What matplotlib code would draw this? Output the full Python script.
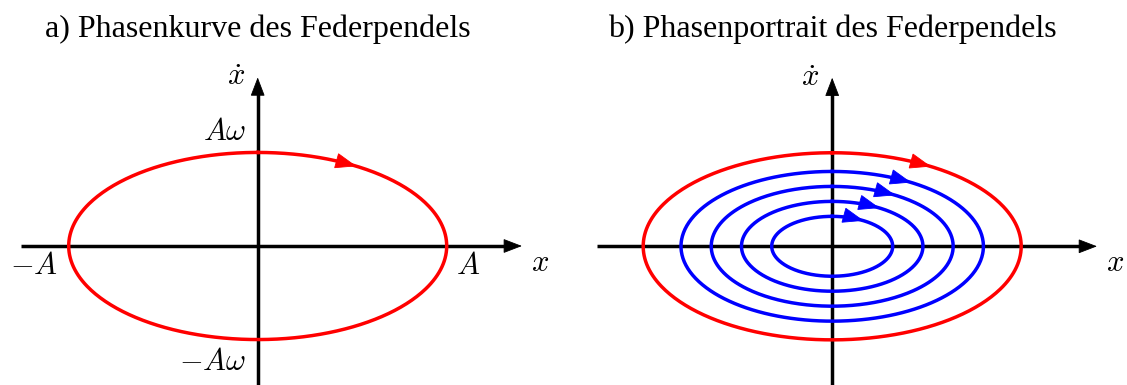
import numpy as np
import matplotlib
matplotlib.use("Agg")
import matplotlib.pyplot as plt
from matplotlib.patches import FancyArrowPatch

plt.rcParams["font.family"] = "Liberation Serif"
plt.rcParams["mathtext.fontset"] = "cm"

# spring pendulum: x = A sin(wt), xdot = A w cos(wt); lengths in units of A
AMP = 1.0
OMEGA = 0.495
PORTRAIT_AMPS = [1.0, 0.80, 0.64, 0.48, 0.32]
PORTRAIT_COLORS = ["red", "blue", "blue", "blue", "blue"]
ARROW_PHASE = 0.55  # phase of the direction marker on each curve (rad)

TITLES = ["a) Phasenkurve des Federpendels", "b) Phasenportrait des Federpendels"]

W, H, DPI = 1127, 385, 100
UNIT = 189.0                     # pixels per A
ORIGINS = [(257.7, 246.0), (832.2, 246.3)]   # pixel position of (0, 0)
SPLIT = 563                      # pixel column between the panels
X_AXIS = [(-1.252, 1.398), (-1.244, 1.401)]
Y_TOP = 0.892

LW = 2.5


def head(ax, p0, p1, color, length, half_width):
    ax.add_patch(FancyArrowPatch(
        p0, p1, arrowstyle=f"-|>,head_length={length},head_width={half_width}",
        mutation_scale=1, color=color, lw=0.6, shrinkA=0, shrinkB=0,
        joinstyle="miter", zorder=4))


def ellipse(ax, amp, color):
    t = np.linspace(0, 2 * np.pi, 400)
    ax.plot(amp * np.sin(t), amp * OMEGA * np.cos(t), color=color, lw=LW, zorder=3)
    a0, a1 = ARROW_PHASE - 0.08, ARROW_PHASE
    head(ax, (amp * np.sin(a0), amp * OMEGA * np.cos(a0)),
         (amp * np.sin(a1), amp * OMEGA * np.cos(a1)), color, 14, 5.2)


def axes_cross(ax, xr):
    x0, x1 = xr
    ax.plot([x0, x1 - 0.04], [0, 0], color="k", lw=LW, solid_capstyle="butt", zorder=2)
    ax.plot([0, 0], [-1, Y_TOP - 0.04], color="k", lw=LW, solid_capstyle="butt", zorder=2)
    head(ax, (x1 - 0.05, 0), (x1, 0), "k", 12, 4.6)
    head(ax, (0, Y_TOP - 0.05), (0, Y_TOP), "k", 12, 4.6)
    ax.text(x1 + 0.096, -0.09, "$x$", fontsize=22, ha="center", va="center")
    ax.text(-0.115, Y_TOP - 0.003, r"$\dot{x}$", fontsize=22, ha="center", va="center")


fig = plt.figure(figsize=(W / DPI, H / DPI), dpi=DPI)
bounds = [(0, SPLIT), (SPLIT, W)]
axs = []
for (left, right), (ox, oy) in zip(bounds, ORIGINS):
    ax = fig.add_axes([left / W, 0, (right - left) / W, 1])
    ax.set_xlim((left - ox) / UNIT, (right - ox) / UNIT)
    ax.set_ylim(-(H - oy) / UNIT, oy / UNIT)
    ax.axis("off")
    axs.append(ax)

ax_a, ax_b = axs

# a) single phase curve with its labels
axes_cross(ax_a, X_AXIS[0])
ellipse(ax_a, AMP, "red")
ax_a.text(-AMP - 0.057, -0.111, "$-A$", fontsize=22, ha="right", va="center")
ax_a.text(AMP + 0.113, -0.111, "$A$", fontsize=22, ha="center", va="center")
ax_a.text(-0.06, AMP * OMEGA + 0.105, r"$A\omega$", fontsize=22, ha="right", va="center")
ax_a.text(-0.06, -AMP * OMEGA - 0.12, r"$-A\omega$", fontsize=22, ha="right", va="center")

# b) family of curves for several energies
axes_cross(ax_b, X_AXIS[1])
for amp, col in zip(PORTRAIT_AMPS, PORTRAIT_COLORS):
    ellipse(ax_b, amp * AMP, col)

for ax, title in zip(axs, TITLES):
    ax.text(0, (ORIGINS[0][1] - 37) / UNIT, title, fontsize=23,
            ha="center", va="baseline")

fig.savefig("out.png", dpi=DPI)
